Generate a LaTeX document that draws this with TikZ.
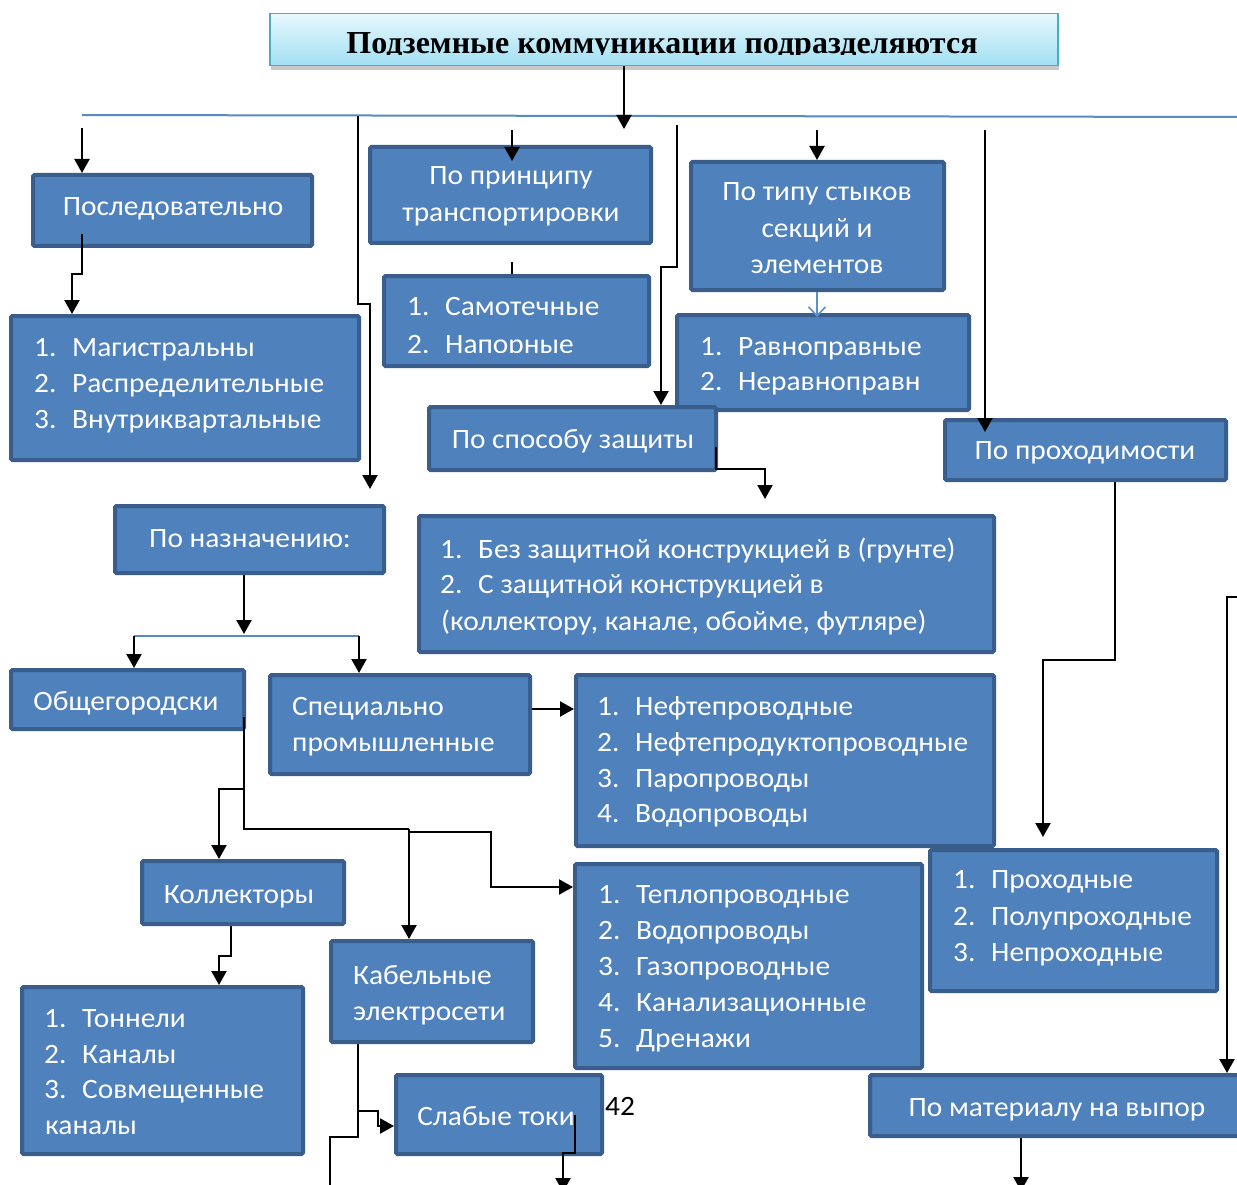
\documentclass[tikz,border=0pt]{standalone}
\usepackage{fontspec}
\setmainfont{Carlito}[FakeStretch=1.05]
\newfontfamily\titlefont{Liberation Serif}
\usetikzlibrary{arrows.meta,calc,shadows}
\definecolor{boxfill}{HTML}{4F81BD}
\definecolor{boxline}{HTML}{3A5E8C}
\definecolor{busline}{HTML}{5A8AC6}
\definecolor{ttop}{HTML}{E6F8FD}
\definecolor{tbot}{HTML}{A2DFF3}
\definecolor{tline}{HTML}{4BACC6}
\definecolor{thin}{HTML}{5B8FD0}

% box by its outer corners: name, x1, y1, x2, y2
\newcommand\bx[5]{\node[box,minimum width={#4-#2-4},minimum height={#5-#3-4}] (#1) at (#2,#3) {};}
% numbered list line: name, x, baseline, number, text
\newcommand\li[5]{\node[txt] (#1) at (#2,#3) {\makebox[38pt][l]{#4}#5};}

\begin{document}
\begin{tikzpicture}[x=1pt,y=-1pt,
  box/.style={draw=boxline, fill=boxfill, line width=4pt, rounded corners=1.5pt, inner sep=0pt, anchor=north west},
  txt/.style={text=white, font=\fontsize{28}{36}\selectfont, inner sep=0pt, anchor=base west},
  ctxt/.style={txt, anchor=base},
  wire/.style={line width=2.2pt, line join=miter},
  conn/.style={wire, -{Triangle[length=14pt,width=15pt]}},
  bus/.style={draw=busline, line width=2pt},
]
\useasboundingbox (0,0) rectangle (1237,1185);
\clip (0,0) rectangle (1237,1185);
\fill[white] (0,0) rectangle (1237,1185);

% ---------- title ----------
\node[draw=tline, line width=1.5pt, top color=ttop, bottom color=tbot,
      minimum width=788, minimum height=52, inner sep=0pt, anchor=north west,
      drop shadow={shadow xshift=1pt, shadow yshift=-4pt, opacity=0.3, fill=black!70}]
      (title) at (269,13) {};
\begin{scope}
  \clip (270,14) rectangle (1056,55);
  \node[font=\titlefont\bfseries\fontsize{32}{36}\selectfont, anchor=base, inner sep=0pt]
        (ttl) at (662,54) {Подземные коммуникации подразделяются};
\end{scope}

% ---------- boxes ----------
\bx{A}{31}{173}{314}{248}
\bx{B}{9}{314}{361}{462}
\bx{C}{368}{145}{653}{245}
\bx{D}{382}{274}{651}{368}
\bx{E}{689}{160}{946}{292}
\bx{F}{675}{313}{971}{412}
\bx{G}{427}{405}{718}{472}
\bx{H}{417}{514}{996}{654}
\bx{I}{943}{418}{1228}{482}
\bx{K}{928}{848}{1219}{993}
\bx{L}{868}{1073}{1250}{1138}
\bx{M}{113}{504}{386}{575}
\bx{N}{9}{668}{246}{731}
\bx{O}{268}{673}{532}{776}
\bx{P}{574}{673}{996}{848}
\bx{Q}{140}{859}{346}{926}
\bx{R}{20}{985}{305}{1156}
\bx{S}{329}{939}{535}{1044}
\bx{T}{394}{1073}{604}{1156}
\bx{U}{573}{862}{924}{1070}

% ---------- texts ----------
\node[ctxt] (tA) at (173,216) {Последовательно};
\li{b1}{34}{356}{1.}{Магистральны}
\li{b2}{34}{392}{2.}{Распределительные}
\li{b3}{34}{428}{3.}{Внутриквартальные}
\node[ctxt] (tC1) at (511,185) {По принципу};
\node[ctxt] (tC2) at (511,222) {транспортировки};
\begin{scope}
  \clip (384,276) rectangle (649,352);
  \li{d1}{407}{315}{1.}{Самотечные}
  \li{d2}{407}{353}{2.}{Напорные}
\end{scope}
\node[ctxt] (tE1) at (817,201) {По типу стыков};
\node[ctxt] (tE2) at (817,237) {секций и};
\node[ctxt] (tE3) at (817,273) {элементов};
\li{f1}{700}{355}{1.}{Равноправные}
\li{f2}{700}{390}{2.}{Неравноправн}
\node[ctxt] (tG) at (573,448) {По способу защиты};
\li{h1}{440}{558}{1.}{Без защитной конструкцией в (грунте)}
\li{h2}{440}{593}{2.}{С защитной конструкцией в}
\node[txt] (h3) at (441,630) {(коллектору, канале, обойме, футляре)};
\node[ctxt] (tI) at (1085,459) {По проходимости};
\li{k1}{953}{888}{1.}{Проходные}
\li{k2}{953}{925}{2.}{Полупроходные}
\li{k3}{953}{961}{3.}{Непроходные}
\node[ctxt] (tL) at (1057,1116) {По материалу на выпор};
\node[ctxt] (tM) at (250,547) {По назначению:};
\node[ctxt] (tN) at (126,710) {Общегородски};
\node[txt] (tO1) at (292,715) {Специально};
\node[txt] (tO2) at (292,751) {промышленные};
\li{p1}{597}{715}{1.}{Нефтепроводные}
\li{p2}{597}{751}{2.}{Нефтепродуктопроводные}
\li{p3}{597}{787}{3.}{Паропроводы}
\li{p4}{597}{822}{4.}{Водопроводы}
\node[ctxt] (tQ) at (239,903) {Коллекторы};
\li{r1}{44}{1027}{1.}{Тоннели}
\li{r2}{44}{1063}{2.}{Каналы}
\li{r3}{44}{1098}{3.}{Совмещенные}
\node[txt] (r4) at (45,1134) {каналы};
\node[txt] (tS1) at (353,984) {Кабельные};
\node[txt] (tS2) at (353,1020) {электросети};
\node[ctxt] (tT) at (496,1125) {Слабые токи};
\li{u1}{598}{903}{1.}{Теплопроводные}
\li{u2}{598}{939}{2.}{Водопроводы}
\li{u3}{598}{975}{3.}{Газопроводные}
\li{u4}{598}{1011}{4.}{Канализационные}
\li{u5}{598}{1047}{5.}{Дренажи}
\node[anchor=base west, inner sep=0pt, font=\fontsize{28}{36}\selectfont] (pg) at (605,1115) {42};

% ---------- distribution line and feeders ----------
\coordinate (busL) at (82,115);
\coordinate (busR) at (1237,117);
\coordinate (busIn) at (624,129);
\draw[bus] (busL) -- (busR);
\draw[conn] (title.south -| busIn) -- (busIn);

\coordinate (s1) at (82,128);
\coordinate (s2) at (358,116);
\coordinate (s3) at (512,130);
\coordinate (s4) at (677,125);
\coordinate (s5) at (817,130);
\coordinate (s6) at (985,130);
\coordinate (s7) at (1240,597);

\draw[conn] (s1) -- (A.north -| s1);
\draw[conn] ($(A.south -| s1)+(0,-14)$) -- (82,274) -- (72,274) -- (B.north -| 72,0);

\draw[conn] (s2) -- (358,304) -- (370,304) -- ($(M.north -| 370,0)+(0,-15)$);

\draw[conn] (s3) -- ($(C.north -| s3)+(0,16)$);
\draw[wire] ($(C.south -| s3)+(0,17)$) -- (D.north -| s3);

\draw[conn] (s4) -- (677,267) -- (661,267) -- (G.north -| 661,0);

\draw[conn] (s5) -- (E.north -| s5);
\draw[draw=thin, line width=1.6pt, -{Straight Barb[length=9pt,width=17pt]}]
      (E.south -| s5) -- ($(F.north -| s5)+(0,4)$);

\draw[conn] ($(G.east)+(-2,8)$) |- (765,469) -- ($(H.north -| 765,0)+(0,-15)$);

\draw[conn] (s6) -- ($(I.north -| s6)+(0,14)$);
\draw[conn] (I.south -| 1115,0) -- (1115,660) -- (1043,660) -- ($(K.north -| 1043,0)+(0,-11)$);

\draw[conn] (s7) -- (1227,597) -- (L.north -| 1227,0);
\coordinate (outL) at (1021,1191);
\draw[conn] (L.south -| outL) -- (outL);

% ---------- purpose branch ----------
\coordinate (split) at (244,634);
\draw[conn] (M.south -| split) -- (split);
\draw[bus] (134,636) -- (359,636);
\draw[conn] (134,636) -- (N.north -| 134,0);
\draw[conn] (359,636) -- (O.north -| 359,0);
\draw[conn] (O.east |- 0,709) -- (P.west |- 0,709);

\draw[wire] ($(N.south -| 244,0)+(0,-14)$) -- (244,829) -- (409,829);
\draw[conn] (244,789) -- (219,789) -- (Q.north -| 219,0);
\draw[conn] (409,829) -- (S.north -| 409,0);
\draw[conn] (409,832) -- (491,832) -- (491,887) -- (U.west |- 0,887);

\draw[conn] (Q.south -| 231,0) -- (231,956) -- (219,956) -- (R.north -| 219,0);

\coordinate (outS) at (330,1190);
\draw[wire] (S.south -| 358,0) -- (358,1137) -- (330,1137) -- (outS);
\draw[conn] (358,1111) -- (378,1111) -- (378,1126) -- (T.west |- 0,1126);

\coordinate (outT) at (563,1192);
\draw[conn] (T.center -| 575,0) -- (575,1153) -- (563,1153) -- (outT);
\end{tikzpicture}
\end{document}
